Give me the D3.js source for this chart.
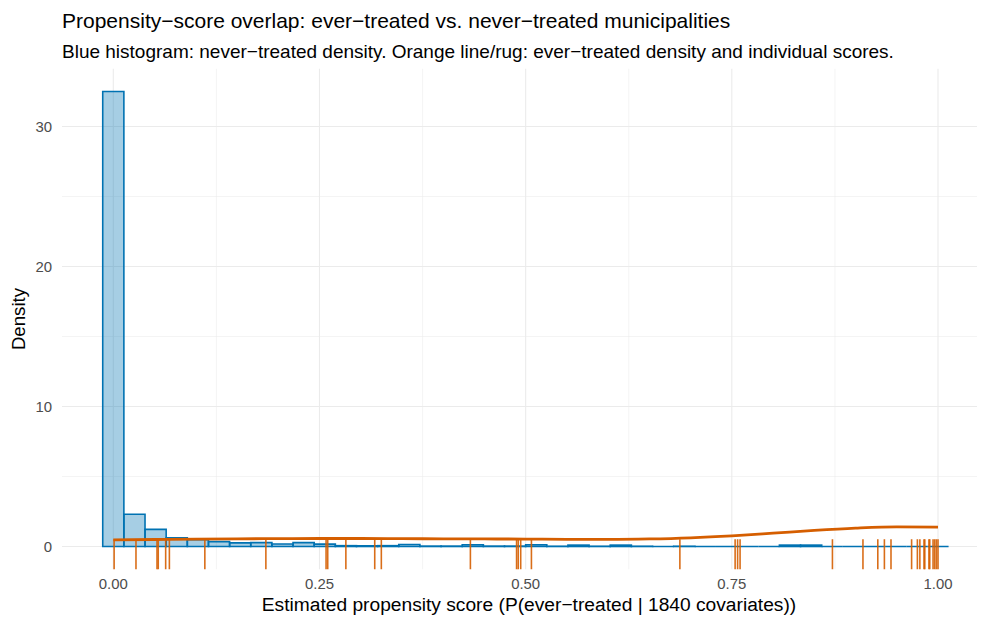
<!DOCTYPE html>
<html>
<head>
<meta charset="utf-8">
<script src="https://cdn.jsdelivr.net/npm/d3@7"></script>
<style>
  html, body { margin: 0; padding: 0; background: #ffffff; }
  svg { display: block; font-family: "Liberation Sans", Arial, Helvetica, sans-serif; }
</style>
</head>
<body>
<svg id="chart" width="982" height="618"></svg>
<script>
// Never-treated histogram: 40 bins of width 1/39, centred on k/39, values are densities
const binCount = 40;
const binWidth = 1 / 39;
const neverTreatedDensity = [
  32.5, 2.3, 1.22, 0.63, 0.48, 0.35, 0.26, 0.28, 0.18, 0.28,
  0.17, 0.06, 0.05, 0.06, 0.14, 0.03, 0.03, 0.12, 0.03, 0.03,
  0.12, 0.02, 0.10, 0.02, 0.10, 0.02, 0, 0.02, 0, 0,
  0, 0, 0.10, 0.10, 0, 0, 0, 0, 0, 0
];

// Ever-treated density curve (score, density)
const everScoreGrid = [0.00, 0.05, 0.10, 0.15, 0.20, 0.25, 0.30, 0.35, 0.40, 0.45, 0.50,
                       0.55, 0.60, 0.65, 0.70, 0.75, 0.80, 0.85, 0.90, 0.95, 1.00];
const everDensity = [0.47, 0.50, 0.53, 0.55, 0.56, 0.57, 0.57, 0.56, 0.55, 0.54, 0.53,
                     0.51, 0.51, 0.54, 0.62, 0.76, 0.95, 1.15, 1.31, 1.40, 1.38];

// Ever-treated individual propensity scores (rug)
const everScores = [
  0.001, 0.0275, 0.053, 0.0545, 0.0635, 0.068, 0.111, 0.185, 0.258, 0.260,
  0.282, 0.317, 0.325, 0.433, 0.489, 0.491, 0.494, 0.507, 0.687, 0.754,
  0.757, 0.760, 0.872, 0.909, 0.927, 0.935, 0.943, 0.968, 0.975, 0.978,
  0.983, 0.984, 0.989, 0.990, 0.994, 0.996, 0.998, 1.000
];

const xTicks = [0, 0.25, 0.5, 0.75, 1];
const xTickLabels = ["0.00", "0.25", "0.50", "0.75", "1.00"];
const xMinor = [0.125, 0.375, 0.625, 0.875];
const yTicks = [0, 10, 20, 30];
const yMinor = [5, 15, 25];

const titleText = "Propensity\u2212score overlap: ever\u2212treated vs. never\u2212treated municipalities";
const subtitleText = "Blue histogram: never\u2212treated density. Orange line/rug: ever\u2212treated density and individual scores.";
const xTitle = "Estimated propensity score (P(ever\u2212treated | 1840 covariates))";
const yTitle = "Density";

const blue = "#0072B2";
const orange = "#D55E00";
const gridCol = "#EBEBEB";
const textCol = "#4D4D4D";

const panel = { left: 62, right: 977, top: 68.75, bottom: 569.25 };

const svg = d3.select("#chart");

const x = d3.scaleLinear().domain([0, 1]).range([113.3, 938]);
const y = d3.scaleLinear().domain([0, 30]).range([546.5, 126.5]);

// Grid
const grid = svg.append("g");
grid.selectAll(".ymin").data(yMinor).join("line")
  .attr("x1", panel.left).attr("x2", panel.right)
  .attr("y1", d => y(d)).attr("y2", d => y(d))
  .attr("stroke", gridCol).attr("stroke-width", 0.55);
grid.selectAll(".xmin").data(xMinor).join("line")
  .attr("y1", panel.top).attr("y2", panel.bottom)
  .attr("x1", d => x(d)).attr("x2", d => x(d))
  .attr("stroke", gridCol).attr("stroke-width", 0.55);
grid.selectAll(".ymaj").data(yTicks).join("line")
  .attr("x1", panel.left).attr("x2", panel.right)
  .attr("y1", d => y(d)).attr("y2", d => y(d))
  .attr("stroke", gridCol).attr("stroke-width", 1.1);
grid.selectAll(".xmaj").data(xTicks).join("line")
  .attr("y1", panel.top).attr("y2", panel.bottom)
  .attr("x1", d => x(d)).attr("x2", d => x(d))
  .attr("stroke", gridCol).attr("stroke-width", 1.1);

// Histogram bars (paths so zero-height bins still show their outline)
const bins = neverTreatedDensity.map((v, i) => ({ x0: i * binWidth - binWidth / 2, x1: i * binWidth + binWidth / 2, v }));
svg.append("g").selectAll("path").data(bins).join("path")
  .attr("d", b => `M${x(b.x0)},${y(0)}V${y(b.v)}H${x(b.x1)}V${y(0)}Z`)
  .attr("fill", blue).attr("fill-opacity", 0.35)
  .attr("stroke", blue).attr("stroke-width", 1.6)
  .attr("stroke-linejoin", "miter");

// Ever-treated density line
const line = d3.line().x(d => x(d[0])).y(d => y(d[1])).curve(d3.curveMonotoneX);
svg.append("path")
  .datum(everScoreGrid.map((s, i) => [s, everDensity[i]]))
  .attr("d", line)
  .attr("fill", "none").attr("stroke", orange).attr("stroke-width", 2.8);

// Rug
const rugLen = 0.06 * (panel.bottom - panel.top);
svg.append("g").selectAll("line").data(everScores).join("line")
  .attr("x1", d => x(d)).attr("x2", d => x(d))
  .attr("y1", panel.bottom).attr("y2", panel.bottom - rugLen)
  .attr("stroke", orange).attr("stroke-width", 1.6).attr("stroke-opacity", 0.9);

// Axes labels
svg.append("g").selectAll("text").data(yTicks).join("text")
  .attr("x", 52).attr("y", d => y(d)).attr("dy", "0.35em")
  .attr("text-anchor", "end").attr("font-size", 14.93).attr("fill", textCol)
  .text(d => d);
svg.append("g").selectAll("text").data(xTicks).join("text")
  .attr("x", d => x(d)).attr("y", 589)
  .attr("text-anchor", "middle").attr("font-size", 14.93).attr("fill", textCol)
  .text((d, i) => xTickLabels[i]);

svg.append("text")
  .attr("x", 529).attr("y", 611)
  .attr("text-anchor", "middle").attr("font-size", 19.2).attr("fill", "#000")
  .text(xTitle);
svg.append("text")
  .attr("transform", `translate(25,${(panel.top + panel.bottom) / 2}) rotate(-90)`)
  .attr("text-anchor", "middle").attr("font-size", 18.67).attr("fill", "#000")
  .text(yTitle);

// Titles
svg.append("text").attr("x", 62).attr("y", 28)
  .attr("font-size", 21).attr("fill", "#000").text(titleText);
svg.append("text").attr("x", 62).attr("y", 58)
  .attr("font-size", 19).attr("fill", "#000").text(subtitleText);
</script>
</body>
</html>
